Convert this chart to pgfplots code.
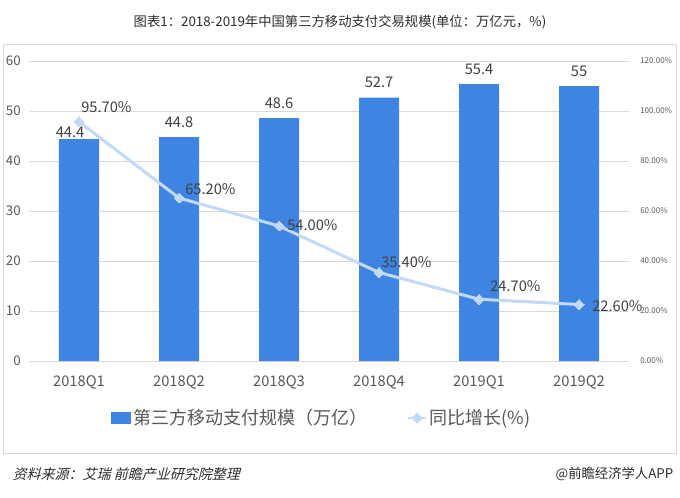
\documentclass[border=0pt]{standalone}
\usepackage{pgfplots}
\pgfplotsset{compat=1.18}
\usepackage{fontspec}
\setmainfont{Noto Sans CJK SC}
\newfontfamily\cjkslant{Noto Sans CJK SC}[FakeSlant=0.25]
\definecolor{barblue}{RGB}{62,132,224}
\definecolor{lineblue}{RGB}{194,218,247}
\definecolor{gridgray}{RGB}{217,217,217}
\definecolor{tickgray}{RGB}{89,89,89}
\definecolor{labelgray}{RGB}{64,64,64}
\definecolor{titlegray}{RGB}{45,45,45}
\begin{document}
\begin{tikzpicture}
\useasboundingbox (0pt,0pt) rectangle (510pt,372.75pt);
\fill[white] (0pt,0pt) rectangle (510pt,372.75pt);
\draw[gridgray, line width=0.75pt] (2.25pt,339pt) rectangle (507pt,33pt);
\node[font=\fontsize{10}{12}\selectfont, text=titlegray] at (255pt,356.25pt) {图表1：2018-2019年中国第三方移动支付交易规模(单位：万亿元，\%)};
\node[anchor=west, font=\cjkslant\fontsize{10.5}{12}\selectfont, text=titlegray] at (6pt,17.25pt) {资料来源：艾瑞 前瞻产业研究院整理};
\node[anchor=east, font=\fontsize{10}{12}\selectfont, text=titlegray] at (508.5pt,17.25pt) {@前瞻经济学人APP};

\begin{axis}[
  at={(21.75pt,102pt)}, anchor=south west, scale only axis,
  width=450pt, height=225pt,
  xmin=-0.5, xmax=5.5, ymin=0, ymax=60,
  ybar, bar width=30pt,
  xtick={0,1,2,3,4,5},
  xticklabels={2018Q1,2018Q2,2018Q3,2018Q4,2019Q1,2019Q2},
  ytick={0,10,20,30,40,50,60},
  ymajorgrids, grid style={gridgray, line width=0.75pt},
  major tick length=0pt,
  axis x line*=bottom, axis y line*=left,
  x axis line style={gridgray, line width=0.75pt, -},
  y axis line style={draw=none},
  /pgf/number format/assume math mode=true,
  xticklabel style={anchor=north, inner sep=0pt, yshift=-10.5pt, font=\fontsize{11}{13}\selectfont, text=tickgray},
  yticklabel style={anchor=east, inner sep=0pt, xshift=-6pt, font=\fontsize{10}{12}\selectfont, text=tickgray},
  clip=false,
]
\addplot[fill=barblue, draw=none] coordinates {(0,44.4) (1,44.8) (2,48.6) (3,52.7) (4,55.4) (5,55)};
\begin{scope}[every node/.style={font=\fontsize{11}{13}\selectfont, text=labelgray, inner sep=0pt}]
\node[xshift=-6.75pt, yshift=5.25pt] at (axis cs:0,44.4) {44.4};
\node[yshift=11.25pt] at (axis cs:1,44.8) {44.8};
\node[yshift=11.25pt] at (axis cs:2,48.6) {48.6};
\node[yshift=11.25pt] at (axis cs:3,52.7) {52.7};
\node[yshift=11.25pt] at (axis cs:4,55.4) {55.4};
\node[yshift=11.25pt] at (axis cs:5,55) {55};
\end{scope}
\end{axis}

\begin{axis}[
  at={(21.75pt,102pt)}, anchor=south west, scale only axis,
  width=450pt, height=225pt,
  xmin=-0.5, xmax=5.5, ymin=0, ymax=120,
  axis x line=none, axis y line*=right,
  y axis line style={draw=none},
  major tick length=0pt,
  ytick={0,20,40,60,80,100,120},
  yticklabels={0.00\%,20.00\%,40.00\%,60.00\%,80.00\%,100.00\%,120.00\%},
  yticklabel style={anchor=west, inner sep=0pt, xshift=8.25pt, font=\fontsize{6}{7}\selectfont, text=tickgray},
  clip=false,
  legend columns=2,
  legend style={at={(0.1367,-0.19)}, anchor=west, draw=none, fill=none,
    inner xsep=0pt, inner ysep=0pt,
    font=\fontsize{13.5}{16}\selectfont, text=tickgray,
    /tikz/every even column/.append style={column sep=28pt}},
]
\addlegendimage{legend image code/.code={\fill[barblue] (0pt,-4.1pt) rectangle (14.25pt,4.1pt);}}
\addlegendentry{第三方移动支付规模（万亿）}
\addplot[lineblue, line width=2.25pt, mark=square*, mark size=2.65pt,
  mark options={rotate=45, fill=lineblue, draw=lineblue, line width=0pt},
  legend image code/.code={\draw[lineblue, line width=1.5pt] (0pt,0pt) -- (13pt,0pt);
    \fill[lineblue] (6.5pt,2.6pt) -- (9.1pt,0pt) -- (6.5pt,-2.6pt) -- (3.9pt,0pt) -- cycle;}]
  coordinates {(0,95.7) (1,65.2) (2,54.0) (3,35.4) (4,24.7) (5,22.6)};
\addlegendentry{同比增长(\%)}
\begin{scope}[every node/.style={anchor=west, font=\fontsize{11}{13}\selectfont, text=labelgray, inner sep=0pt}]
\node[xshift=1.5pt, yshift=11.25pt] at (axis cs:0,95.7) {95.70\%};
\node[xshift=4.5pt, yshift=6.75pt] at (axis cs:1,65.2) {65.20\%};
\node[xshift=6pt, yshift=0.75pt] at (axis cs:2,54.0) {54.00\%};
\node[xshift=1.5pt, yshift=7.5pt] at (axis cs:3,35.4) {35.40\%};
\node[xshift=8.25pt, yshift=9.75pt] at (axis cs:4,24.7) {24.70\%};
\node[xshift=9.75pt, yshift=-1.5pt] at (axis cs:5,22.6) {22.60\%};
\end{scope}
\end{axis}
\end{tikzpicture}
\end{document}
